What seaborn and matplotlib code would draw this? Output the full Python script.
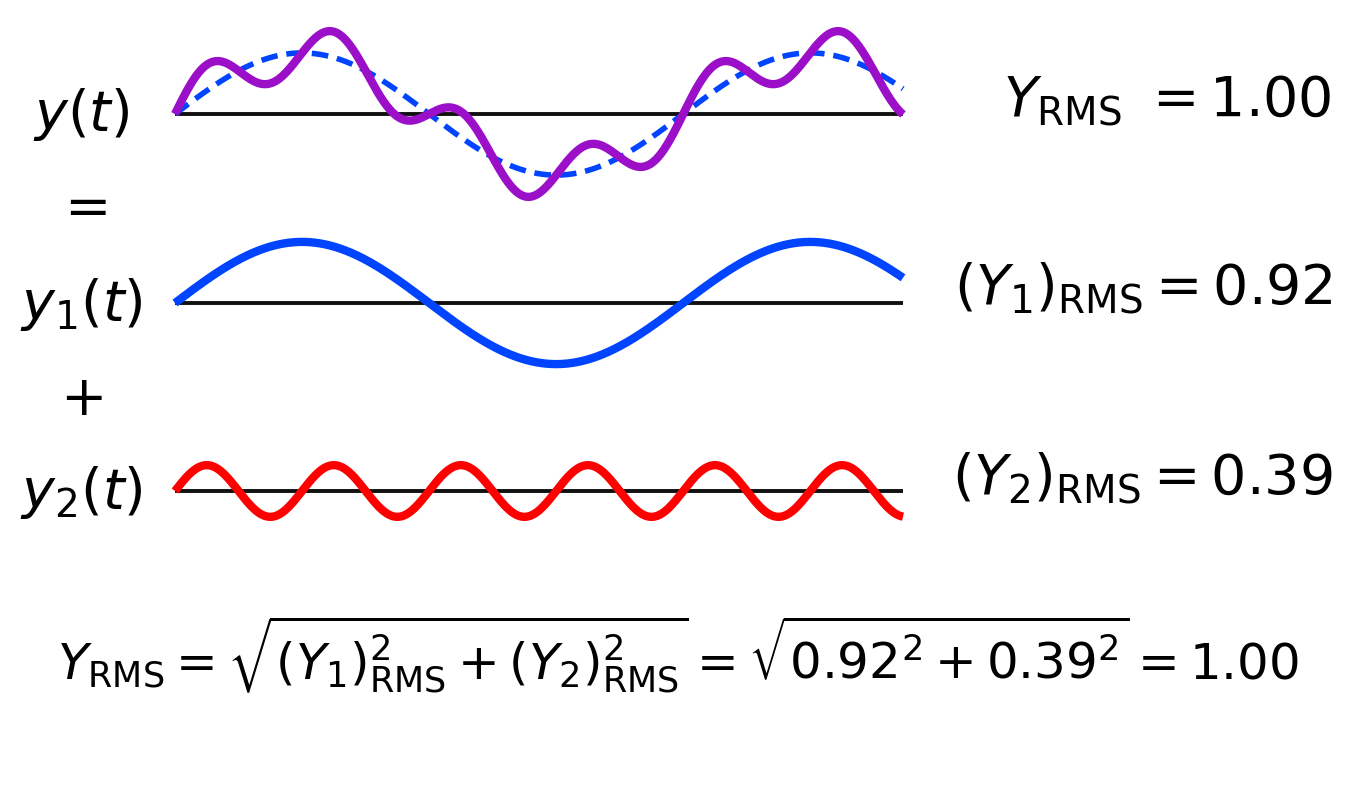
import numpy as np
import seaborn as sns
import matplotlib.pyplot as plt

# two sine components
t_end = 9.0
amp1, freq1 = 1.30, 1.0      # y1: rms 0.92
amp2, freq2 = 0.55, 4.0      # y2: rms 0.39
colors = {'y': '#9b0fc8', 'y1': '#0044ff', 'y2': '#ff0000'}

left_labels = [r'$y(t)$', r'$y_1(t)$', r'$y_2(t)$']
ops = [r'$=$', r'$+$']
right_labels = [r'$Y_{\rm RMS}\ = 1.00$',
                r'$(Y_1)_{\rm RMS} = 0.92$',
                r'$(Y_2)_{\rm RMS} = 0.39$']
formula = (r'$Y_{\rm RMS} = \sqrt{(Y_1)^2_{\rm RMS} + (Y_2)^2_{\rm RMS}}'
           r' = \sqrt{0.92^2 + 0.39^2} = 1.00$')

t = np.linspace(0, t_end, 1000)
y1 = amp1 * np.sin(freq1 * t)
y2 = amp2 * np.sin(freq2 * t)
y = y1 + y2

sns.set_theme(style='white')
plt.rcParams['font.family'] = ['DejaVu Sans']
plt.rcParams['mathtext.fontset'] = 'dejavusans'
plt.rcParams['text.color'] = 'black'

W, H = 1352, 795
fig = plt.figure(figsize=(W / 100, H / 100), dpi=100)

px_per_unit = 47
ax_h = 180
centers = [114, 303, 491]
axes = []
for c in centers:
    ax = fig.add_axes([175 / W, 1 - (c + ax_h / 2) / H, 728 / W, ax_h / H])
    ax.set_xlim(0, t_end)
    half = ax_h / 2 / px_per_unit
    ax.set_ylim(-half, half)
    ax.axis('off')
    ax.axhline(0, color='#111111', lw=2.8, zorder=1)
    axes.append(ax)

sns.lineplot(x=t, y=y1, ax=axes[0], color=colors['y1'], lw=4, ls=(0, (3, 1.6)), zorder=2)
sns.lineplot(x=t, y=y, ax=axes[0], color=colors['y'], lw=6, zorder=3)
sns.lineplot(x=t, y=y1, ax=axes[1], color=colors['y1'], lw=6, zorder=3)
sns.lineplot(x=t, y=y2, ax=axes[2], color=colors['y2'], lw=6, zorder=3)
for ax in axes:
    for ln in ax.get_lines():
        ln.set_solid_capstyle('butt')
        ln.set_clip_on(False)

fs = 40
for lab, yb in zip(left_labels, [130, 320, 508]):
    fig.text(81 / W, 1 - yb / H, lab, fontsize=fs, ha='center', va='baseline')
for op, yc in zip(ops, [208, 400]):
    fig.text(81 / W, 1 - yc / H, op, fontsize=fs, ha='center', va='center')
for lab, yb in zip(right_labels, [117, 305, 494]):
    fig.text(1332 / W, 1 - yb / H, lab, fontsize=fs, ha='right', va='baseline')

fig.text(678 / W, 1 - 680 / H, formula, fontsize=36, ha='center', va='baseline')

fig.savefig('out.png', dpi=100, facecolor='white')
